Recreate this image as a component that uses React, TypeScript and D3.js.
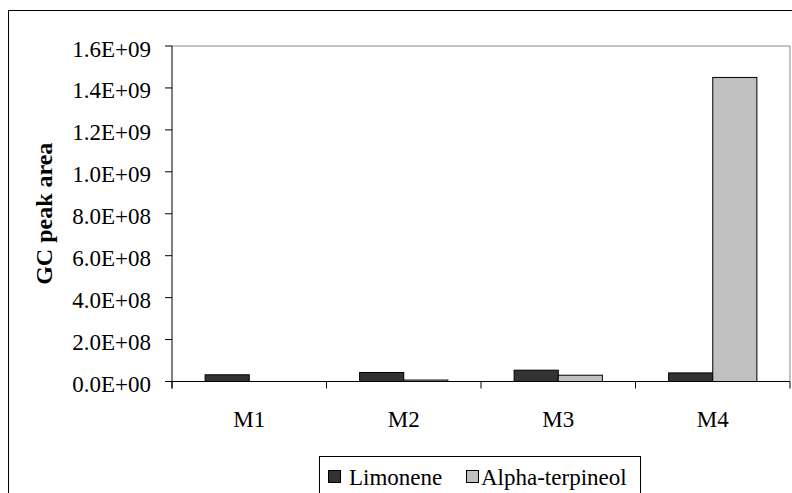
import * as d3 from 'd3';

const categories = ['M1', 'M2', 'M3', 'M4'];
const seriesNames = ['Limonene', 'Alpha-terpineol'];
const limonene = [3.2e7, 4.3e7, 5.4e7, 4.1e7];
const alphaTerpineol = [0, 7e6, 3.0e7, 1.45e9];
const yTickValues = [0, 2e8, 4e8, 6e8, 8e8, 1e9, 1.2e9, 1.4e9, 1.6e9];
const seriesColors = ['#333333', '#c0c0c0'];

const W = 792;
const H = 493;
const FONT = "'Liberation Serif', 'Times New Roman', Times, 'DejaVu Serif', serif";

// Excel style 1.6E+09
const sci = (v: number) => {
  const [m, e] = v.toExponential(1).split('e');
  const n = parseInt(e, 10);
  return `${m}E${n < 0 ? '-' : '+'}${String(Math.abs(n)).padStart(2, '0')}`;
};

const App = () => {
  const left = 172, right = 790, top = 46, bottom = 381.5;

  const x = d3.scaleBand<string>().domain(categories).range([left, right]);
  const xs = d3.scaleBand<string>()
    .domain(seriesNames)
    .range([0, x.bandwidth()])
    .paddingInner(0)
    .paddingOuter(0.75);
  const y = d3.scaleLinear().domain([0, 1.6e9]).range([bottom, top]);

  const values = [limonene, alphaTerpineol];
  const boundaries = categories.map(c => x(c)!).concat([right]);

  return (
    <svg
      width={W}
      height={H}
      style={{ position: 'absolute', left: 0, top: 0, background: '#fff', fontFamily: FONT, fontSize: 23 }}
    >
      {/* chart border */}
      <rect x={8.5} y={10.5} width={820} height={520} fill="none" stroke="#000" strokeWidth={1} />

      {/* plot area frame */}
      <line x1={left} x2={right} y1={top} y2={top} stroke="#888" />
      <line x1={right} x2={right} y1={top} y2={bottom} stroke="#888" />

      {/* bars */}
      {seriesNames.map((s, si) =>
        categories.map((c, ci) => {
          const v = values[si][ci];
          if (!v) return null;
          const yy = y(v);
          return (
            <rect
              key={s + c}
              x={x(c)! + xs(s)!}
              y={yy}
              width={xs.bandwidth()}
              height={Math.max(bottom - yy, 1)}
              fill={seriesColors[si]}
              stroke="#000"
              strokeWidth={1}
            />
          );
        })
      )}

      {/* y axis */}
      <line x1={left} x2={left} y1={top} y2={bottom + 7} stroke="#000" />
      {yTickValues.map(t => (
        <g key={t}>
          <line x1={left - 7} x2={left} y1={y(t)} y2={y(t)} stroke="#000" />
          <text x={151} y={y(t)} dy={10.5} textAnchor="end">
            {sci(t)}
          </text>
        </g>
      ))}

      {/* x axis */}
      <line x1={left - 7} x2={right} y1={bottom} y2={bottom} stroke="#000" />
      {boundaries.map((b, i) => (
        <line key={i} x1={b} x2={b} y1={bottom} y2={bottom + 7} stroke="#000" />
      ))}
      {categories.map(c => (
        <text key={c} x={x(c)! + x.bandwidth() / 2} y={427} textAnchor="middle">
          {c}
        </text>
      ))}

      {/* y title */}
      <text
        transform={`translate(52, ${(top + bottom) / 2}) rotate(-90)`}
        textAnchor="middle"
        fontWeight="bold"
        fontSize={24}
      >
        GC peak area
      </text>

      {/* legend */}
      <rect x={319.5} y={456.5} width={321} height={50} fill="#fff" stroke="#000" />
      <rect x={328.5} y={470.5} width={12} height={12} fill={seriesColors[0]} stroke="#000" />
      <text x={349} y={485}>{seriesNames[0]}</text>
      <rect x={466.5} y={470.5} width={12} height={12} fill={seriesColors[1]} stroke="#000" />
      <text x={481} y={485}>{seriesNames[1]}</text>
    </svg>
  );
};

export default App;
